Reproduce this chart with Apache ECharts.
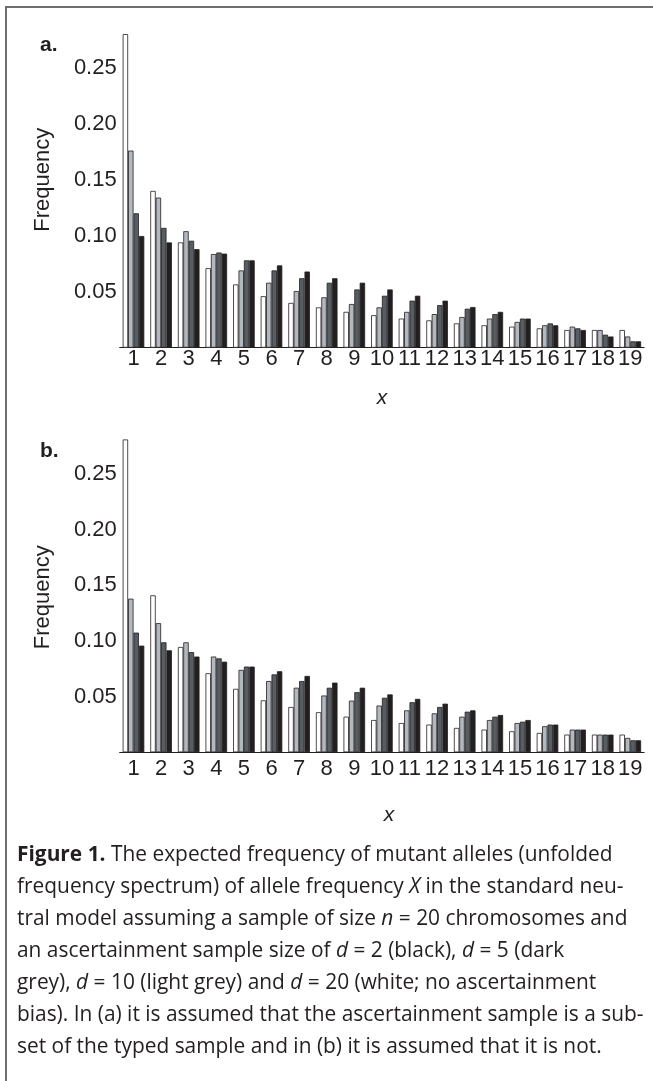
<!DOCTYPE html>
<html>
<head>
<meta charset="utf-8">
<script src="https://cdn.jsdelivr.net/npm/echarts@6/dist/echarts.min.js"></script>
<style>
  html, body { margin: 0; padding: 0; background: #fff; }
  #wrap { position: relative; width: 653px; height: 1081px; overflow: hidden; }
  #chart { position: absolute; left: 0; top: 0; width: 653px; height: 1081px; }
  #frame { position: absolute; left: 5px; top: 6px; width: 700px; height: 1100px;
           border-left: 2px solid #6e6e6e; border-top: 2px solid #6e6e6e; box-sizing: border-box; }
  #caption { position: absolute; left: 17px; top: 837px; font-family: "Open Sans", Lato, sans-serif;
             font-size: 20.9px; line-height: 32px; color: #231f20; white-space: nowrap; }
  #caption div { white-space: nowrap; }
</style>
</head>
<body>
<div id="wrap">
  <div id="frame"></div>
  <div id="chart"></div>
  <div id="caption">
    <div><b>Figure 1.</b> The expected frequency of mutant alleles (unfolded</div>
    <div>frequency spectrum) of allele frequency <i>X</i> in the standard neu-</div>
    <div>tral model assuming a sample of size <i>n</i> = 20 chromosomes and</div>
    <div>an ascertainment sample size of <i>d</i> = 2 (black), <i>d</i> = 5 (dark</div>
    <div>grey), <i>d</i> = 10 (light grey) and <i>d</i> = 20 (white; no ascertainment</div>
    <div>bias). In (a) it is assumed that the ascertainment sample is a sub-</div>
    <div>set of the typed sample and in (b) it is assumed that it is not.</div>
  </div>
</div>
<script>
// ---- data ----
var categories = ['1','2','3','4','5','6','7','8','9','10','11','12','13','14','15','16','17','18','19'];
var seriesNames = ['d = 20', 'd = 10', 'd = 5', 'd = 2'];

// panel a
var a_d20 = [0.280,0.140,0.094,0.071,0.0565,0.046,0.040,0.036,0.032,0.029,0.026,0.0244,0.0217,0.020,0.0188,0.0173,0.0158,0.0158,0.0158];
var a_d10 = [0.176,0.134,0.104,0.0836,0.069,0.058,0.0506,0.045,0.039,0.036,0.032,0.030,0.0274,0.026,0.023,0.020,0.0188,0.0158,0.010];
var a_d5  = [0.120,0.107,0.0955,0.085,0.078,0.069,0.062,0.058,0.052,0.0464,0.042,0.038,0.0348,0.030,0.026,0.0217,0.0173,0.0116,0.0057];
var a_d2  = [0.0997,0.094,0.088,0.084,0.078,0.0735,0.068,0.062,0.058,0.052,0.0464,0.042,0.0363,0.032,0.026,0.020,0.0158,0.010,0.0057];

// panel b
var b_d20 = [0.281,0.141,0.0946,0.071,0.057,0.0467,0.0407,0.036,0.032,0.029,0.0263,0.0249,0.0219,0.0204,0.0189,0.0174,0.0159,0.0159,0.0159];
var b_d10 = [0.138,0.116,0.0988,0.086,0.074,0.064,0.058,0.051,0.0464,0.042,0.0377,0.035,0.032,0.029,0.0263,0.0234,0.0204,0.0159,0.0129];
var b_d5  = [0.1075,0.0988,0.090,0.0844,0.077,0.070,0.064,0.058,0.054,0.049,0.045,0.0407,0.0365,0.032,0.0275,0.0249,0.0204,0.0159,0.0108];
var b_d2  = [0.0958,0.0916,0.086,0.0814,0.077,0.0728,0.0686,0.0626,0.058,0.052,0.048,0.0437,0.0377,0.0335,0.029,0.0249,0.0204,0.0159,0.0108];

var yTicks = [0.05, 0.10, 0.15, 0.20, 0.25];

// ---- style ----
var fills = ['#ffffff', '#b3b8bf', '#565e63', '#231f20'];
var ink = '#231f20';
var font = '"Liberation Sans", Arial, Helvetica, sans-serif';
var fs = 22;

function makeBars(arrs, axisIndex) {
  return arrs.map(function (arr, i) {
    return {
      type: 'bar',
      name: seriesNames[i],
      xAxisIndex: axisIndex,
      yAxisIndex: axisIndex,
      data: arr,
      barWidth: 5.4,
      barGap: '0%',
      itemStyle: { color: fills[i], borderColor: ink, borderWidth: 0.8 },
      silent: true
    };
  });
}

function xAx(gridIndex, labelMargin, nameGap, namePad) {
  return {
    type: 'category', gridIndex: gridIndex, data: categories,
    axisLine: { show: true, lineStyle: { color: ink, width: 1.2 } },
    axisTick: { show: false },
    axisLabel: { color: ink, fontFamily: font, fontSize: fs, margin: labelMargin, interval: 0 },
    name: 'x', nameLocation: 'middle', nameGap: nameGap,
    nameTextStyle: { color: ink, fontFamily: font, fontSize: 21, fontStyle: 'italic', padding: namePad }
  };
}

function yAx(gridIndex, namePad) {
  return {
    type: 'value', gridIndex: gridIndex, min: 0, max: 0.3, interval: 0.05,
    axisLine: { show: false }, axisTick: { show: false }, splitLine: { show: false },
    axisLabel: {
      color: ink, fontFamily: font, fontSize: fs, margin: 3,
      showMinLabel: false, showMaxLabel: false,
      formatter: function (v) {
        for (var k = 0; k < yTicks.length; k++) {
          if (Math.abs(v - yTicks[k]) < 1e-9) return yTicks[k].toFixed(2);
        }
        return '';
      }
    },
    name: 'Frequency', nameLocation: 'middle', nameGap: 66, nameRotate: 90,
    nameTextStyle: { color: ink, fontFamily: font, fontSize: fs, padding: namePad }
  };
}

var chart = echarts.init(document.getElementById('chart'), null, { renderer: 'canvas' });
chart.setOption({
  animation: false,
  backgroundColor: 'transparent',
  title: [
    { text: 'a.', left: 35, top: 30, textStyle: { fontFamily: font, fontSize: 21, fontWeight: 'bold', color: ink } },
    { text: 'b.', left: 35, top: 436, textStyle: { fontFamily: font, fontSize: 21, fontWeight: 'bold', color: ink } }
  ],
  grid: [
    { left: 119.7, width: 524.4, top: 11.7, height: 336 },
    { left: 119.7, width: 524.4, top: 418.3, height: 334 }
  ],
  xAxis: [ xAx(0, 0, 40, [0,0,0,0]), xAx(1, 6, 52, [0,0,0,14]) ],
  yAxis: [ yAx(0, [0,0,0,0]), yAx(1, [0,24,0,0]) ],
  series: makeBars([a_d20, a_d10, a_d5, a_d2], 0).concat(makeBars([b_d20, b_d10, b_d5, b_d2], 1))
});
</script>
</body>
</html>
